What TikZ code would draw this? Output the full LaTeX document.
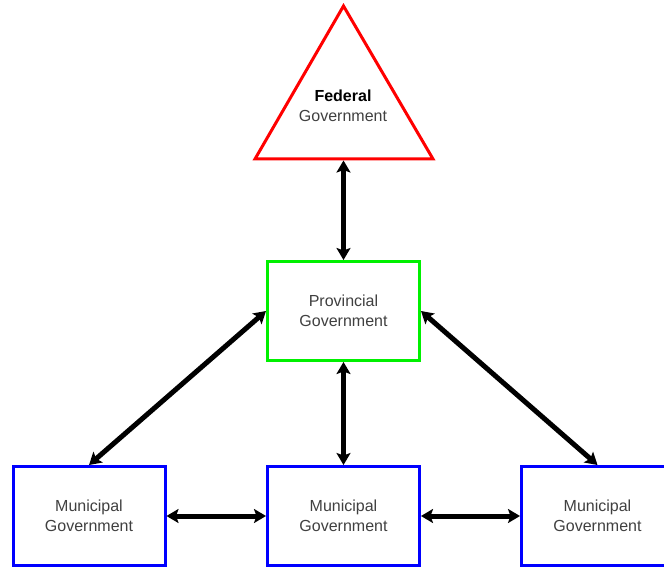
\documentclass[tikz,border=0pt]{standalone}
\usepackage{fontspec}
\setmainfont{Liberation Sans}
\usetikzlibrary{arrows.meta}
\begin{document}
\begin{tikzpicture}[x=1pt,y=-1pt,
  govbox/.style={draw, line width=3pt, minimum width=152pt, minimum height=99pt, inner sep=0pt, align=center, font=\fontsize{16}{20.5}\selectfont, text=black!75},
  link/.style={line width=5pt, {Stealth[length=12pt,width=14pt,inset=2.5pt]}-{Stealth[length=12pt,width=14pt,inset=2.5pt]}}
]
\useasboundingbox (0,0) rectangle (664,567);
\clip (0,0) rectangle (664,567);
\fill[white] (0,0) rectangle (664,567);
% Federal triangle
\coordinate (apex) at (343.5,6);
\coordinate (bl) at (255,159);
\coordinate (br) at (433,159);
\coordinate (fedbase) at (343.5,160.5);
\draw[red, line width=3pt, line join=miter] (apex) -- (bl) -- (br) -- cycle;
\node[align=center, font=\fontsize{16}{20.5}\selectfont, text=black!75] (fed) at (343,106) {\textbf{\textcolor{black}{Federal}}\\Government};
% boxes
\node[govbox, draw={rgb,255:red,0;green,240;blue,0}] (prov) at (343.5,311) {Provincial\\Government};
\node[govbox, draw=blue] (ml) at (89,516) {Municipal\\Government};
\node[govbox, draw=blue] (mm) at (343.5,516) {Municipal\\Government};
\node[govbox, draw=blue] (mr) at (597.5,516) {Municipal\\Government};
% connectors
\draw[link] (fedbase) -- (prov.north);
\draw[link] (prov.south) -- (mm.north);
\draw[link] (ml.east) -- (mm.west);
\draw[link] (mm.east) -- (mr.west);
\draw[link] (prov.west) -- (ml.north);
\draw[link] (prov.east) -- (mr.north);
\end{tikzpicture}
\end{document}
